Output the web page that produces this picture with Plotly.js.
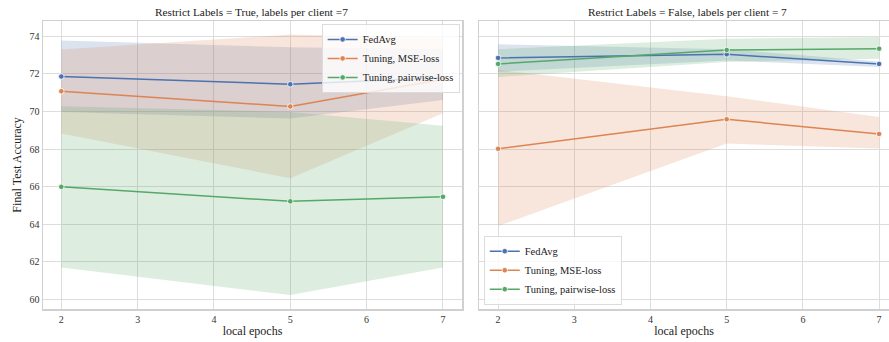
<!DOCTYPE html>
<html>
<head>
<meta charset="utf-8">
<script src="https://cdn.plot.ly/plotly-3.0.1.min.js"></script>
<style>html,body{margin:0;padding:0;background:#fff}#chart{width:889px;height:342px}</style>
</head>
<body>
<div id="chart"></div>
<script>
// local epochs on the x axis
const epochs = [2, 5, 7];

// Restrict Labels = True: mean accuracy and confidence band per method
const fedavgTrue = [71.85, 71.44, 71.79];
const fedavgTrueLo = [69.97, 69.62, 70.6];
const fedavgTrueHi = [73.77, 73.4, 73.3];
const mseTrue = [71.07, 70.26, 71.70];
const mseTrueLo = [68.83, 66.44, 69.9];
const mseTrueHi = [73.28, 74.08, 73.9];
const pairTrue = [65.99, 65.22, 65.46];
const pairTrueLo = [61.7, 60.24, 61.7];
const pairTrueHi = [70.27, 69.97, 69.23];

// Restrict Labels = False
const fedavgFalse = [72.84, 73.03, 72.52];
const fedavgFalseLo = [72.1, 72.7, 72.36];
const fedavgFalseHi = [73.56, 73.3, 72.65];
const mseFalse = [68.01, 69.58, 68.80];
const mseFalseLo = [63.91, 68.29, 68.03];
const mseFalseHi = [72.2, 70.8, 69.7];
const pairFalse = [72.52, 73.26, 73.33];
const pairFalseLo = [71.83, 72.62, 72.8];
const pairFalseHi = [73.3, 73.86, 73.95];

const seriesNames = ['FedAvg', 'Tuning, MSE-loss', 'Tuning, pairwise-loss'];
const colors = ['#4c72b0', '#dd8452', '#55a868'];
const fills = ['rgba(76,114,176,0.2)', 'rgba(221,132,82,0.2)', 'rgba(85,168,104,0.2)'];

const FONT = 'Liberation Serif, Times New Roman, serif';
const traces = [];

function addPanel(xa, ya, legendId, groups) {
  groups.forEach((g, i) => {
    // confidence band: lower edge then upper edge filled to it
    traces.push({x: epochs, y: g.lo, xaxis: xa, yaxis: ya, mode: 'lines',
      line: {width: 0, color: fills[i]}, showlegend: false, hoverinfo: 'skip'});
    traces.push({x: epochs, y: g.hi, xaxis: xa, yaxis: ya, mode: 'lines',
      line: {width: 0, color: fills[i]}, fill: 'tonexty', fillcolor: fills[i],
      showlegend: false, hoverinfo: 'skip'});
  });
  groups.forEach((g, i) => {
    traces.push({x: epochs, y: g.mean, xaxis: xa, yaxis: ya, mode: 'lines+markers',
      name: seriesNames[i], legend: legendId,
      line: {color: colors[i], width: 1.5},
      marker: {color: colors[i], size: 5.5, line: {color: '#fff', width: 0.8}}});
  });
}

addPanel('x', 'y', 'legend', [
  {mean: fedavgTrue, lo: fedavgTrueLo, hi: fedavgTrueHi},
  {mean: mseTrue, lo: mseTrueLo, hi: mseTrueHi},
  {mean: pairTrue, lo: pairTrueLo, hi: pairTrueHi}
]);
addPanel('x2', 'y2', 'legend2', [
  {mean: fedavgFalse, lo: fedavgFalseLo, hi: fedavgFalseHi},
  {mean: mseFalse, lo: mseFalseLo, hi: mseFalseHi},
  {mean: pairFalse, lo: pairFalseLo, hi: pairFalseHi}
]);

const gridColor = '#dddddd';
const lineColor = '#d0d0d0';
const tickFont = {family: FONT, size: 10, color: '#333'};
const labelFont = {family: FONT, size: 12, color: '#222'};

function xAxis(domain, anchor, range) {
  return {domain: domain, anchor: anchor, range: range, tickvals: [2, 3, 4, 5, 6, 7],
    showgrid: true, gridcolor: gridColor, gridwidth: 1, zeroline: false,
    showline: true, mirror: true, linecolor: lineColor, linewidth: 1.5,
    ticks: '', tickfont: tickFont,
    title: {text: 'local epochs', font: labelFont, standoff: 3}};
}
function yAxis(anchor, labels, mirror) {
  return {anchor: anchor, domain: [0, 1], range: [59.5, 74.8], tickvals: [60, 62, 64, 66, 68, 70, 72, 74],
    showticklabels: labels, showgrid: true, gridcolor: gridColor, gridwidth: 1, zeroline: false,
    showline: true, mirror: mirror, linecolor: lineColor, linewidth: 1.5,
    ticks: '', tickfont: tickFont};
}

const yLeft = yAxis('x', true, true);
yLeft.title = {text: 'Final Test Accuracy', font: labelFont, standoff: 5};

const legendStyle = {font: {family: FONT, size: 10.5, color: '#222'},
  bgcolor: 'rgba(255,255,255,0.8)', bordercolor: '#dcdcdc', borderwidth: 1,
  traceorder: 'normal', tracegroupgap: 0, itemwidth: 30};

const layout = {
  width: 889, height: 342,
  margin: {l: 43, r: 0, t: 21, b: 33},
  paper_bgcolor: '#fff', plot_bgcolor: '#fff',
  font: {family: FONT},
  xaxis: xAxis([0, 0.4953], 'y', [1.76, 7.25]),
  yaxis: yLeft,
  xaxis2: xAxis([0.5154, 1], 'y2', [1.75, 7.13]),
  yaxis2: yAxis('x2', false, false),
  legend: Object.assign({x: 0.4925, y: 0.99, xanchor: 'right', yanchor: 'top'}, legendStyle),
  legend2: Object.assign({x: 0.521, y: 0.015, xanchor: 'left', yanchor: 'bottom'}, legendStyle),
  annotations: [
    {text: 'Restrict Labels = True, labels per client =7', xref: 'paper', yref: 'paper',
      x: 0.247, xanchor: 'center', y: 1, yanchor: 'bottom', yshift: 1, showarrow: false,
      font: {family: FONT, size: 11.3, color: '#222'}},
    {text: 'Restrict Labels = False, labels per client = 7', xref: 'paper', yref: 'paper',
      x: 0.7624, xanchor: 'center', y: 1, yanchor: 'bottom', yshift: 1, showarrow: false,
      font: {family: FONT, size: 11.3, color: '#222'}}
  ]
};

Plotly.newPlot('chart', traces, layout, {displayModeBar: false, staticPlot: true});
</script>
</body>
</html>
